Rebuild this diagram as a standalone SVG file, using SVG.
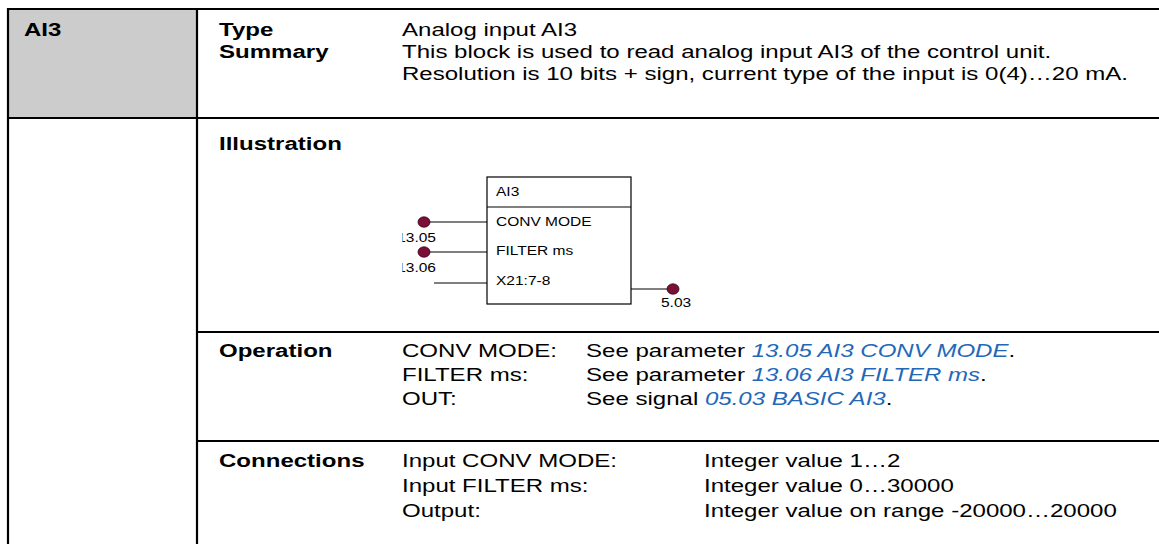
<svg xmlns="http://www.w3.org/2000/svg" width="1159" height="544" viewBox="0 0 1159 544">
  <defs>
    <style>
      .rule { stroke: #000; stroke-width: 2.2; fill: none; }
      .txt { font-family: "Liberation Sans", Arial, sans-serif; font-size: 18.5px; fill: #000; }
      .bold { font-weight: bold; }
      .link { fill: #2368b8; font-style: italic; }
      .lbl { font-family: "Liberation Sans", Arial, sans-serif; font-size: 13.5px; fill: #000; }
      .blk { stroke: #000; stroke-width: 1.2; fill: #fff; }
      .wire { stroke: #000; stroke-width: 1.2; fill: none; }
      .pin { fill: #7a1036; stroke: #3b0019; stroke-width: 0.8; }
    </style>
    <!-- the pin numbers are cut at the left edge, only the stem of the leading 1 remains -->
    <clipPath id="cut1305"><rect x="402.4" y="228" width="40" height="17"/></clipPath>
    <clipPath id="cut1306"><rect x="402.4" y="258" width="40" height="17"/></clipPath>
  </defs>

  <!-- table frame -->
  <g id="table">
    <rect x="9" y="10" width="187" height="107" fill="#cccccc"/>
    <line class="rule" x1="7" y1="9" x2="1159" y2="9"/>
    <line class="rule" x1="7" y1="118" x2="1159" y2="118"/>
    <line class="rule" x1="197" y1="332" x2="1159" y2="332"/>
    <line class="rule" x1="197" y1="441" x2="1159" y2="441"/>
    <line class="rule" x1="8" y1="8" x2="8" y2="544"/>
    <line class="rule" x1="197" y1="8" x2="197" y2="544"/>
  </g>

  <!-- header row -->
  <g id="header">
    <text class="txt bold" transform="translate(24 36) scale(1.3 1)">AI3</text>
    <text class="txt bold" transform="translate(219 36) scale(1.3 1)">Type</text>
    <text class="txt bold" transform="translate(219 58) scale(1.3 1)">Summary</text>
    <text class="txt" transform="translate(402 36) scale(1.3 1)">Analog input AI3</text>
    <text class="txt" transform="translate(402 58) scale(1.3 1)">This block is used to read analog input AI3 of the control unit.</text>
    <text class="txt" transform="translate(402 80) scale(1.3 1)">Resolution is 10 bits + sign, current type of the input is 0(4)…20 mA.</text>
  </g>

  <!-- illustration row -->
  <g id="illustration">
    <text class="txt bold" transform="translate(219 150) scale(1.3 1)">Illustration</text>
  </g>

  <!-- connectors of the function block -->
  <g id="connectors">
    <line class="wire" x1="424" y1="222" x2="487" y2="222"/>
    <line class="wire" x1="424" y1="252" x2="487" y2="252"/>
    <line class="wire" x1="434" y1="283" x2="487" y2="283"/>
    <line class="wire" x1="631" y1="289" x2="673" y2="289"/>
  </g>

  <g id="block-ai3">
    <rect class="blk" x="487" y="177" width="144" height="127"/>
    <line class="wire" x1="487" y1="207" x2="631" y2="207"/>
    <text class="lbl" transform="translate(496 196) scale(1.15 1)">AI3</text>
    <text class="lbl" transform="translate(496 226) scale(1.15 1)">CONV MODE</text>
    <text class="lbl" transform="translate(496 255) scale(1.15 1)">FILTER ms</text>
    <text class="lbl" transform="translate(496 285) scale(1.15 1)">X21:7-8</text>
  </g>

  <g id="pin-1305">
    <ellipse class="pin" cx="424" cy="222" rx="6" ry="5.2"/>
    <g clip-path="url(#cut1305)">
      <text class="lbl" text-anchor="end" transform="translate(436 242) scale(1.15 1)">13.05</text>
    </g>
  </g>
  <g id="pin-1306">
    <ellipse class="pin" cx="424" cy="252" rx="6" ry="5.2"/>
    <g clip-path="url(#cut1306)">
      <text class="lbl" text-anchor="end" transform="translate(436 272) scale(1.15 1)">13.06</text>
    </g>
  </g>
  <g id="pin-503">
    <ellipse class="pin" cx="673" cy="289" rx="6" ry="5.2"/>
    <text class="lbl" transform="translate(661 307) scale(1.15 1)">5.03</text>
  </g>

  <!-- operation row -->
  <g id="operation">
    <text class="txt bold" transform="translate(219 357) scale(1.3 1)">Operation</text>
    <text class="txt" transform="translate(402 357) scale(1.3 1)">CONV MODE:</text>
    <text class="txt" transform="translate(402 381) scale(1.3 1)">FILTER ms:</text>
    <text class="txt" transform="translate(402 405) scale(1.3 1)">OUT:</text>
    <text class="txt" transform="translate(586 357) scale(1.3 1)">See parameter <tspan class="link">13.05 AI3 CONV MODE</tspan>.</text>
    <text class="txt" transform="translate(586 381) scale(1.3 1)">See parameter <tspan class="link">13.06 AI3 FILTER ms</tspan>.</text>
    <text class="txt" transform="translate(586 405) scale(1.3 1)">See signal <tspan class="link">05.03 BASIC AI3</tspan>.</text>
  </g>

  <!-- connections row -->
  <g id="connections">
    <text class="txt bold" transform="translate(219 467) scale(1.3 1)">Connections</text>
    <text class="txt" transform="translate(402 467) scale(1.3 1)">Input CONV MODE:</text>
    <text class="txt" transform="translate(402 492) scale(1.3 1)">Input FILTER ms:</text>
    <text class="txt" transform="translate(402 517) scale(1.3 1)">Output:</text>
    <text class="txt" transform="translate(704 467) scale(1.3 1)">Integer value 1…2</text>
    <text class="txt" transform="translate(704 492) scale(1.3 1)">Integer value 0…30000</text>
    <text class="txt" transform="translate(704 517) scale(1.3 1)">Integer value on range -20000…20000</text>
  </g>
</svg>
